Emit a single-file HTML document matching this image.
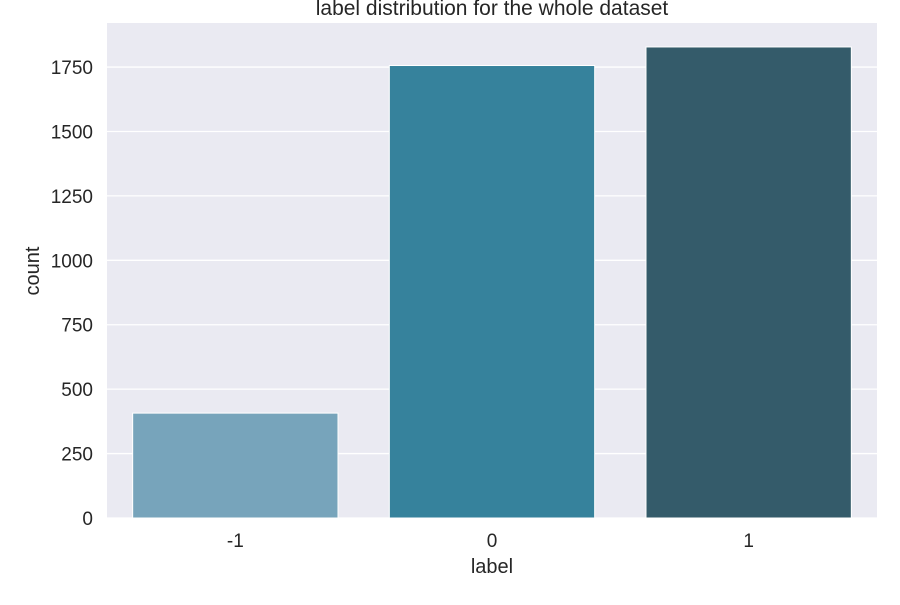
<!DOCTYPE html>
<html><head><meta charset="utf-8"><style>
body{margin:0;background:#fff;font-family:"Liberation Sans",Arial,sans-serif}
</style></head><body>
<svg id="chart" width="900" height="600" xmlns="http://www.w3.org/2000/svg" font-family="Liberation Sans, Arial, sans-serif">
<rect x="107" y="23" width="770" height="495" fill="#eaeaf2"/>
<g id="grid"></g><g id="bars"></g><g id="ticks"></g>
<text x="492" y="15" text-anchor="middle" font-size="21" fill="#262626">label distribution for the whole dataset</text>
<text x="492" y="573" text-anchor="middle" font-size="20" fill="#262626">label</text>
<text transform="translate(39,271) rotate(-90)" text-anchor="middle" font-size="20" fill="#262626">count</text>
</svg>
<script>
const categories = ["-1", "0", "1"];
const counts = [407, 1756, 1828];
const yTicks = [0, 250, 500, 750, 1000, 1250, 1500, 1750];
const colors = ["#77a4bb", "#36829c", "#345b6a"];
const L=107,R=877,T=23,B=518,YMAX=1921;
const NS="http://www.w3.org/2000/svg";
const y=v=>B-(B-T)*v/YMAX;
const band=(R-L)/categories.length;
const x=i=>L+band*i;
function mk(t,a,p){const e=document.createElementNS(NS,t);for(const k in a)e.setAttribute(k,a[k]);p.appendChild(e);return e;}
const g=document.getElementById('grid'),b=document.getElementById('bars'),tk=document.getElementById('ticks');
yTicks.forEach(v=>{
  const l=mk('line',{x1:L,x2:R,y1:y(v),y2:y(v),stroke:'#fff','stroke-width':1.3},g);
  
  
  const t=mk('text',{x:L-14,y:y(v)+7,'text-anchor':'end','font-size':19,fill:'#262626'},tk);
  t.textContent=v;
  
  
});
categories.forEach((c,i)=>{
  const w=band*0.8;
  const r=mk('rect',{x:x(i)+band*0.1,y:y(counts[i]),width:w,height:B-y(counts[i]),fill:colors[i],stroke:'#fff','stroke-width':1},b);
  
  
  const t=mk('text',{x:x(i)+band/2,y:547,'text-anchor':'middle','font-size':19,fill:'#262626'},tk);
  t.textContent=c;
  
  
});
</script>
</body></html>
